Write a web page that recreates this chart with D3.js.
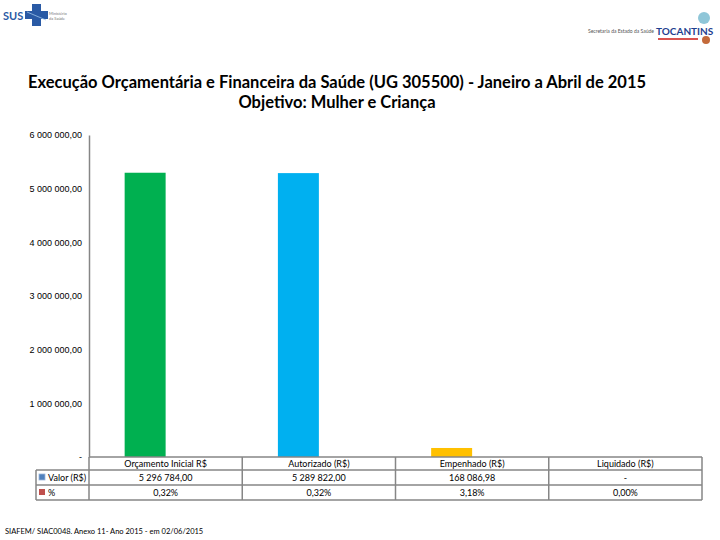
<!DOCTYPE html>
<html>
<head>
<meta charset="utf-8">
<title>Execução Orçamentária</title>
<style>
  body { margin: 0; background: #fff; }
  svg { font-family: Lato, "Liberation Sans", sans-serif; }
</style>
</head>
<body>
<script src="https://cdn.jsdelivr.net/npm/d3@7"></script>
<script>
// chart data
var categories = ["Orçamento Inicial R$", "Autorizado (R$)", "Empenhado (R$)", "Liquidado (R$)"];
var valores = [5296784.00, 5289822.00, 168086.98, 0];
var percentuais = [0.0032, 0.0032, 0.0318, 0.0000];
var valorLabels = ["5 296 784,00", "5 289 822,00", "168 086,98", "-"];
var pctLabels = ["0,32%", "0,32%", "3,18%", "0,00%"];
var barColors = ["#00B050", "#00B0F0", "#FFC000", "#7F7F7F"];
var yTicks = [0, 1000000, 2000000, 3000000, 4000000, 5000000, 6000000];

var W = 720, H = 540;
var plotLeft = 89, plotRight = 702, plotTop = 135, plotBottom = 457;

var svg = d3.select("body").append("svg")
    .attr("width", W)
    .attr("height", H);

// logos (simplified)
var logoL = svg.append("g");
logoL.append("text").attr("x", 3).attr("y", 20)
    .attr("font-size", 11).attr("font-weight", "bold").attr("fill", "#2a5aa5")
    .text("SUS");
logoL.append("rect").attr("x", 32).attr("y", 4).attr("width", 9).attr("height", 22).attr("fill", "#2a5aa5");
logoL.append("rect").attr("x", 25).attr("y", 11).attr("width", 23).attr("height", 8).attr("fill", "#2a5aa5");
logoL.append("line").attr("x1", 27).attr("y1", 12).attr("x2", 46).attr("y2", 20)
    .attr("stroke", "#9cc3ea").attr("stroke-width", 0.8);
logoL.append("text").attr("x", 49).attr("y", 15).attr("font-size", 4).attr("fill", "#777").text("Ministério");
logoL.append("text").attr("x", 49).attr("y", 20).attr("font-size", 4).attr("fill", "#777").text("da Saúde");

var logoR = svg.append("g");
logoR.append("text").attr("x", 588).attr("y", 33)
    .attr("font-size", 5).attr("fill", "#555").text("Secretaria da Estado da Saúde");
logoR.append("text").attr("x", 656).attr("y", 35)
    .attr("font-size", 10).attr("font-weight", "bold").attr("fill", "#1f3f8f").text("TOCANTINS");
logoR.append("rect").attr("x", 658).attr("y", 38).attr("width", 40).attr("height", 2).attr("fill", "#d9534f");
logoR.append("circle").attr("cx", 704).attr("cy", 18).attr("r", 6).attr("fill", "#8fc6d8");
logoR.append("circle").attr("cx", 706).attr("cy", 40).attr("r", 4).attr("fill", "#c46a3a");

// title
svg.append("text").attr("x", 337).attr("y", 88)
    .attr("text-anchor", "middle").attr("font-size", 16.5).attr("font-weight", "bold")
    .text("Execução Orçamentária e Financeira da Saúde (UG 305500) - Janeiro a Abril de 2015");
svg.append("text").attr("x", 337).attr("y", 108)
    .attr("text-anchor", "middle").attr("font-size", 16.5).attr("font-weight", "bold")
    .text("Objetivo: Mulher e Criança");

// scales
var y = d3.scaleLinear().domain([0, 6000000]).range([plotBottom, plotTop]);
var x = d3.scaleBand().domain(categories).range([plotLeft, plotRight]).paddingInner(0).paddingOuter(0);
var xSub = d3.scaleBand().domain(["valor", "pct"]).range([0, x.bandwidth()]).paddingOuter(0.87).paddingInner(0);

// y axis
var yAxis = d3.axisLeft(y).tickValues(yTicks).tickSize(0).tickPadding(7)
    .tickFormat(function (d) {
      if (d === 0) return "-";
      return d3.format(",")(d).replace(/,/g, " ") + ",00";
    });
var gy = svg.append("g").attr("transform", "translate(" + plotLeft + ",0)").call(yAxis);
gy.select(".domain").attr("stroke", "#868686").attr("stroke-width", 1.5);
gy.selectAll("text").attr("font-size", 9).attr("fill", "#000");

// bars
svg.append("g").selectAll("rect")
  .data(valores)
  .enter()
  .append("rect")
    .attr("x", function (d, i) { return x(categories[i]) + xSub("valor"); })
    .attr("y", function (d) { return y(d); })
    .attr("width", xSub.bandwidth())
    .attr("height", function (d) { return plotBottom - y(d); })
    .style("fill", function (d, i) { return barColors[i]; });

// % series (tiny bars next to valor)
svg.append("g").selectAll("rect")
  .data(percentuais)
  .enter()
  .append("rect")
    .attr("x", function (d, i) { return x(categories[i]) + xSub("pct"); })
    .attr("y", function (d) { return y(d); })
    .attr("width", xSub.bandwidth())
    .attr("height", function (d) { return plotBottom - y(d); })
    .style("fill", "#C0504D");

// data table
var rowH = [13, 15, 15];
var r0 = plotBottom, r1 = r0 + rowH[0], r2 = r1 + rowH[1], r3 = r2 + rowH[2];
var tableLeft = 36;
var grid = svg.append("g").attr("stroke", "#868686").attr("stroke-width", 1.5).attr("fill", "none");
grid.append("line").attr("x1", plotLeft).attr("x2", plotRight).attr("y1", r0).attr("y2", r0);
grid.append("line").attr("x1", tableLeft).attr("x2", plotRight).attr("y1", r1).attr("y2", r1);
grid.append("line").attr("x1", tableLeft).attr("x2", plotRight).attr("y1", r2).attr("y2", r2);
grid.append("line").attr("x1", tableLeft).attr("x2", plotRight).attr("y1", r3).attr("y2", r3);
grid.append("line").attr("x1", tableLeft).attr("x2", tableLeft).attr("y1", r1).attr("y2", r3);
grid.append("line").attr("x1", plotLeft).attr("x2", plotLeft).attr("y1", r0).attr("y2", r3);
categories.forEach(function (c) {
  grid.append("line")
    .attr("x1", x(c) + x.bandwidth()).attr("x2", x(c) + x.bandwidth())
    .attr("y1", r0).attr("y2", r3);
});

var cells = svg.append("g").attr("font-size", 9).attr("text-anchor", "middle").attr("fill", "#000");
categories.forEach(function (c, i) {
  var cx = x(c) + x.bandwidth() / 2;
  cells.append("text").attr("x", cx).attr("y", r0 + 10).text(c);
  cells.append("text").attr("x", cx).attr("y", r1 + 11).text(valorLabels[i]);
  cells.append("text").attr("x", cx).attr("y", r2 + 11).text(pctLabels[i]);
});

// legend keys in row headers
svg.append("rect").attr("x", 39).attr("y", r1 + 4).attr("width", 6).attr("height", 6)
    .attr("fill", "#4F81BD").attr("stroke", "#9db7db").attr("stroke-width", 0.8);
svg.append("text").attr("x", 48).attr("y", r1 + 11).attr("font-size", 9).text("Valor (R$)");
svg.append("rect").attr("x", 39).attr("y", r2 + 4).attr("width", 6).attr("height", 6)
    .attr("fill", "#C0504D");
svg.append("text").attr("x", 48).attr("y", r2 + 11).attr("font-size", 9).text("%");

// source
svg.append("text").attr("x", 5).attr("y", 534).attr("font-size", 7.5)
    .text("SIAFEM/ SIAC0048. Anexo 11- Ano 2015 - em 02/06/2015");
</script>
</body>
</html>
